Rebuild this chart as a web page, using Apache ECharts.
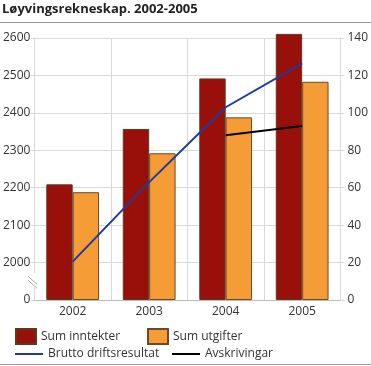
<!DOCTYPE html>
<html><head><meta charset="utf-8">
<script src="https://cdn.jsdelivr.net/npm/echarts@6/dist/echarts.min.js"></script>
<style>html,body{margin:0;padding:0;background:#fff}#c{width:371px;height:366px}</style>
</head><body><div id="c"></div>
<script>
const categories = ['2002', '2003', '2004', '2005'];
const sumInntekter = [2209, 2357, 2492, 2611];
const sumUtgifter = [2188, 2292, 2388, 2483];
const bruttoDriftsresultat = [20.5, 63, 103, 126.5];
const avskrivingar = [null, null, 88, 93];
const leftTicks = [1900, 2000, 2100, 2200, 2300, 2400, 2500, 2600];
const leftTickLabels = ['0', '2000', '2100', '2200', '2300', '2400', '2500', '2600'];
const rightTicks = [0, 20, 40, 60, 80, 100, 120, 140];

const FONT = '"Open Sans", sans-serif';
const chart = echarts.init(document.getElementById('c'));
const gridColor = '#d9d9d9';
const labelColor = '#333';
function legendFor(name, left, top, w, h) {
  return {
    data: [name], left: left, top: top, itemWidth: w, itemHeight: h, itemGap: 0,
    icon: 'rect', textStyle: { fontFamily: FONT, fontSize: 12, color: labelColor, padding: [0, 0, 0, 0] },
    selectedMode: false, padding: 0
  };
}
chart.setOption({
  animation: false,
  title: {
    text: 'Løyvingsrekneskap. 2002-2005', left: 2, top: 3, padding: 0,
    textStyle: { fontFamily: FONT, fontSize: 13, fontWeight: 'bold', color: '#222' }
  },
  legend: [
    legendFor('Sum inntekter', 15, 328, 20, 15),
    legendFor('Sum utgifter', 147, 328, 20, 15),
    legendFor('Brutto driftsresultat', 15, 348, 28, 2),
    legendFor('Avskrivingar', 172, 348, 28, 2)
  ],
  grid: { left: 33, right: 26, top: 38, bottom: 66 },
  xAxis: {
    type: 'category', data: categories, boundaryGap: true,
    axisLine: { lineStyle: { color: '#bbb' } },
    axisTick: { show: false },
    splitLine: { show: true, lineStyle: { color: gridColor } },
    axisLabel: { fontFamily: FONT, fontSize: 12, color: labelColor, margin: 6 }
  },
  yAxis: [
    {
      type: 'value', min: leftTicks[0], max: leftTicks[leftTicks.length - 1], interval: 100,
      startValue: leftTicks[0],
      axisLine: { show: true, lineStyle: { color: gridColor } },
      axisTick: { show: true, length: 4, lineStyle: { color: gridColor } },
      splitLine: { show: true, lineStyle: { color: gridColor } },
      axisLabel: {
        fontFamily: FONT, fontSize: 12, color: labelColor, margin: 4,
        formatter: v => { const i = leftTicks.indexOf(v); return i >= 0 ? leftTickLabels[i] : ''; }
      }
    },
    {
      type: 'value', min: rightTicks[0], max: rightTicks[rightTicks.length - 1], interval: 20,
      axisLine: { show: true, lineStyle: { color: gridColor } },
      axisTick: { show: true, length: 4, lineStyle: { color: gridColor } },
      splitLine: { show: false },
      axisLabel: { fontFamily: FONT, fontSize: 12, color: labelColor, margin: 7 }
    }
  ],
  series: [
    {
      name: 'Sum inntekter', type: 'bar', data: sumInntekter, yAxisIndex: 0, clip: false,
      barGap: '0%', barCategoryGap: '31%',
      itemStyle: { color: '#990f0a', borderColor: '#5c3a22', borderWidth: 1 }
    },
    {
      name: 'Sum utgifter', type: 'bar', data: sumUtgifter, yAxisIndex: 0, clip: false,
      itemStyle: { color: '#f59c36', borderColor: '#6b4a2a', borderWidth: 1 }
    },
    {
      name: 'Brutto driftsresultat', type: 'line', data: bruttoDriftsresultat, yAxisIndex: 1,
      showSymbol: false, symbol: 'none', lineStyle: { color: '#1f3a9c', width: 2 },
      itemStyle: { color: '#1f3a9c' }, z: 5
    },
    {
      name: 'Avskrivingar', type: 'line', data: avskrivingar, yAxisIndex: 1,
      showSymbol: false, symbol: 'none', lineStyle: { color: '#000', width: 2 },
      itemStyle: { color: '#000' }, z: 5
    }
  ]
});
// decorations: title rule, bottom rule, axis-break mark
const yMid = chart.convertToPixel({ yAxisIndex: 0 }, (leftTicks[0] + leftTicks[1]) / 2);
const gx = 33;
chart.setOption({
  graphic: [
    { type: 'line', shape: { x1: 0, y1: 22.5, x2: 371, y2: 22.5 }, style: { stroke: '#999', lineWidth: 1 } },
    { type: 'line', shape: { x1: 0, y1: 364.5, x2: 371, y2: 364.5 }, style: { stroke: '#999', lineWidth: 1 } },
    { type: 'rect', shape: { x: gx - 2, y: yMid - 8, width: 4, height: 14 }, style: { fill: '#fff' }, z: 10 },
    { type: 'line', shape: { x1: gx - 5, y1: yMid - 5, x2: gx + 4, y2: yMid + 3 }, style: { stroke: '#aaa', lineWidth: 1 }, z: 11 },
    { type: 'line', shape: { x1: gx - 5, y1: yMid - 1, x2: gx + 4, y2: yMid + 7 }, style: { stroke: '#aaa', lineWidth: 1 }, z: 11 }
  ]
});
</script>
</body></html>
